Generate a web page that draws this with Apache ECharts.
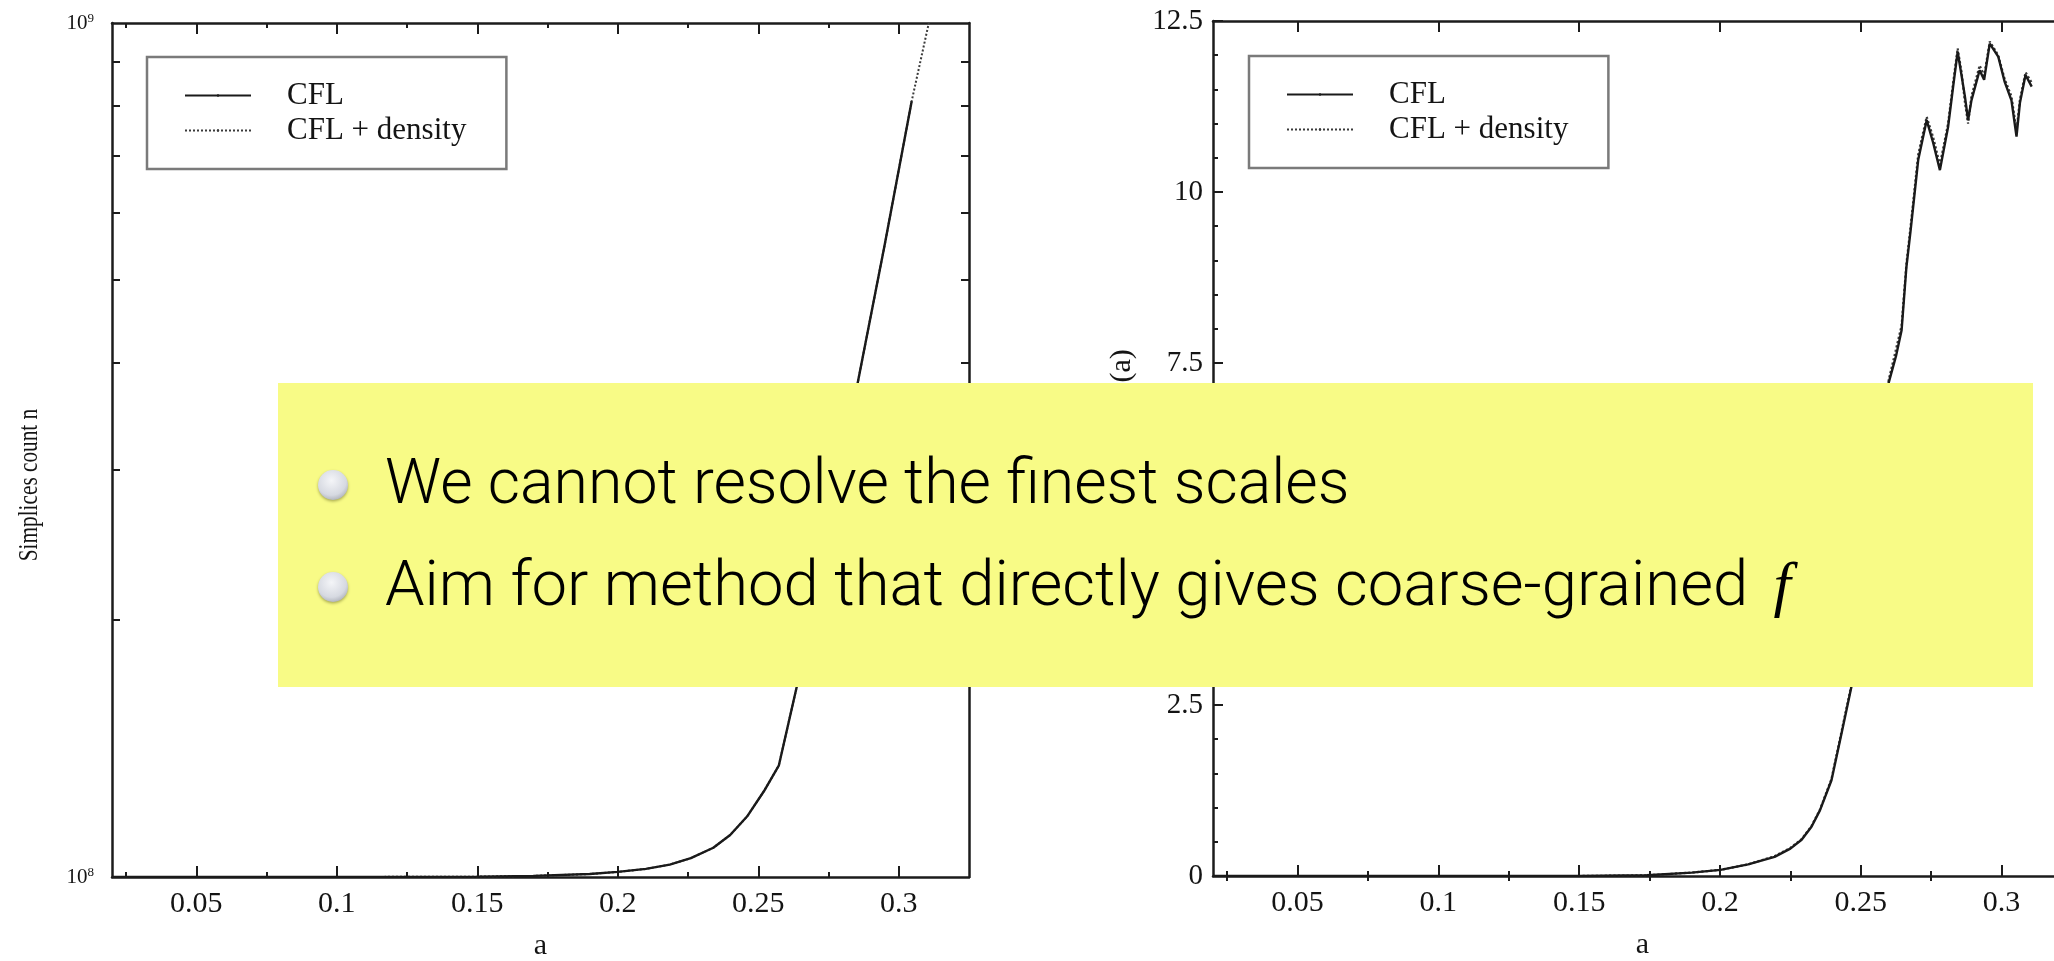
<!DOCTYPE html>
<html>
<head>
<meta charset="utf-8">
<script src="https://cdn.jsdelivr.net/npm/echarts@6/dist/echarts.min.js"></script>
<style>
  html, body { margin: 0; padding: 0; background: #ffffff; }
  #chart { width: 2054px; height: 961px; }
</style>
</head>
<body>
<div id="chart"></div>
<script>
// Tick positions on the scale-factor axis
const aTicks = [0.05, 0.1, 0.15, 0.2, 0.25, 0.3];
const aMinorTicks = [0.025, 0.075, 0.125, 0.175, 0.225, 0.275];

// Simplex count axis (log scale, one decade)
const countTicks = [1e8, 1e9];
const countMinorTicks = [2e8, 3e8, 4e8, 5e8, 6e8, 7e8, 8e8, 9e8];

// Right panel value axis
const valueTicks = [0, 2.5, 5, 7.5, 10, 12.5];
const valueMinorTicks = [0.5, 1, 1.5, 2, 3, 3.5, 4, 4.5, 5.5, 6, 6.5, 7, 8, 8.5, 9, 9.5, 10.5, 11, 11.5, 12];

// Simplices count n versus a
const countCFL = [
  [0.02, 1.000e8], [0.05, 1.000e8], [0.10, 1.000e8], [0.15, 1.001e8], [0.17, 1.003e8],
  [0.19, 1.008e8], [0.20, 1.014e8], [0.21, 1.022e8], [0.2185, 1.034e8], [0.226, 1.052e8],
  [0.234, 1.082e8], [0.240, 1.12e8], [0.246, 1.177e8], [0.252, 1.26e8], [0.2573, 1.35e8],
  [0.2637, 1.67e8], [0.270, 2.1e8], [0.278, 2.85e8], [0.2854, 3.79e8], [0.295, 5.5e8],
  [0.3046, 8.1e8]
];
const countDensity = [
  [0.02, 1.000e8], [0.05, 1.000e8], [0.10, 1.000e8], [0.15, 1.001e8], [0.17, 1.003e8],
  [0.19, 1.008e8], [0.20, 1.014e8], [0.21, 1.022e8], [0.2185, 1.034e8], [0.226, 1.052e8],
  [0.234, 1.082e8], [0.240, 1.12e8], [0.246, 1.177e8], [0.252, 1.26e8], [0.2573, 1.35e8],
  [0.2637, 1.67e8], [0.270, 2.1e8], [0.278, 2.85e8], [0.2854, 3.79e8], [0.295, 5.5e8],
  [0.3046, 8.1e8], [0.3107, 1.0e9]
];

// Right panel quantity versus a
const valueCFL = [
  [0.02, 0], [0.10, 0], [0.15, 0], [0.174, 0.01], [0.19, 0.05], [0.2002, 0.09], [0.21, 0.17],
  [0.2194, 0.28], [0.225, 0.40], [0.229, 0.53], [0.2325, 0.72], [0.2355, 0.96], [0.2396, 1.40],
  [0.2432, 2.09], [0.2467, 2.77], [0.252, 4.4], [0.256, 5.8], [0.2599, 7.21], [0.2625, 7.6],
  [0.2645, 7.98], [0.2662, 8.9], [0.2677, 9.44], [0.2704, 10.47], [0.2734, 11.05], [0.2757, 10.72],
  [0.2781, 10.32], [0.281, 10.95], [0.2828, 11.54], [0.2844, 12.05], [0.2858, 11.7], [0.287, 11.39],
  [0.2881, 11.05], [0.2893, 11.34], [0.2922, 11.78], [0.2938, 11.64], [0.2958, 12.17], [0.2988, 11.98],
  [0.3011, 11.61], [0.3035, 11.34], [0.3053, 10.81], [0.3065, 11.30], [0.3085, 11.71], [0.3107, 11.54]
];
const valueDensity = [
  [0.02, 0], [0.10, 0], [0.15, 0], [0.174, 0.01], [0.19, 0.05], [0.2002, 0.09], [0.21, 0.17],
  [0.2194, 0.29], [0.225, 0.41], [0.229, 0.54], [0.2325, 0.73], [0.2355, 0.97], [0.2396, 1.42],
  [0.2432, 2.12], [0.2467, 2.80], [0.252, 4.45], [0.256, 5.85], [0.2599, 7.25], [0.2625, 7.7],
  [0.2645, 8.05], [0.2662, 8.95], [0.2677, 9.5], [0.2704, 10.55], [0.2734, 11.1], [0.2757, 10.8],
  [0.2781, 10.4], [0.281, 11.0], [0.2828, 11.6], [0.2844, 12.1], [0.2858, 11.75], [0.287, 11.3],
  [0.2881, 11.0], [0.2893, 11.4], [0.2922, 11.85], [0.2938, 11.7], [0.2958, 12.2], [0.2988, 12.0],
  [0.3011, 11.65], [0.3035, 11.4], [0.3053, 10.9], [0.3065, 11.35], [0.3085, 11.75], [0.3107, 11.6]
];

const serif = '"Liberation Serif", "Times New Roman", serif';
const sans = 'Roboto, "Liberation Sans", Arial, sans-serif';
const ink = '#141414';
const axisLine = { show: true, onZero: false, lineStyle: { color: '#1c1c1c', width: 2.5 } };
const noLine = { show: false };

function xAxes(gridIndex) {
  const base = { type: 'value', gridIndex: gridIndex, min: 0.02, max: 0.325, splitLine: { show: false } };
  return [
    Object.assign({}, base, {
      position: 'bottom',
      axisLine: axisLine,
      axisTick: { inside: true, length: 11, customValues: aTicks, lineStyle: { color: '#1c1c1c', width: 2 } },
      axisLabel: { customValues: aTicks, margin: 12, color: ink, fontFamily: serif, fontSize: 30 },
      name: 'a',
      nameLocation: 'middle',
      nameGap: 54,
      nameTextStyle: { color: ink, fontFamily: serif, fontSize: 30 }
    }),
    Object.assign({}, base, {
      position: 'bottom',
      axisLine: noLine,
      axisTick: { inside: true, length: 5, customValues: aMinorTicks, lineStyle: { color: '#1c1c1c', width: 2 } },
      axisLabel: { show: false }
    }),
    Object.assign({}, base, {
      position: 'top',
      axisLine: axisLine,
      axisTick: { inside: true, length: 11, customValues: aTicks, lineStyle: { color: '#1c1c1c', width: 2 } },
      axisLabel: { show: false }
    }),
    Object.assign({}, base, {
      position: 'top',
      axisLine: noLine,
      axisTick: { inside: true, length: 5, customValues: aMinorTicks, lineStyle: { color: '#1c1c1c', width: 2 } },
      axisLabel: { show: false }
    })
  ];
}

function legendAt(left, top) {
  return {
    left: left, top: top, orient: 'vertical',
    padding: [23, 40, 23, 37], itemGap: 4, itemWidth: 66, itemHeight: 3,
    borderColor: '#7a7a7a', borderWidth: 2.5, backgroundColor: '#ffffff',
    selectedMode: false,
    textStyle: { color: ink, fontFamily: serif, fontSize: 31, lineHeight: 30, padding: [0, 0, 0, 31] },
    data: ['CFL', 'CFL + density']
  };
}

const countAxisBase = { type: 'log', logBase: 10, gridIndex: 0, min: 1e8, max: 1e9, splitLine: { show: false } };
const valueAxisBase = { type: 'value', gridIndex: 1, min: 0, max: 12.5, splitLine: { show: false } };

const bulletFill = {
  type: 'radial', x: 0.45, y: 0.35, r: 0.7, colorStops: [
    { offset: 0, color: '#f4f5f8' }, { offset: 0.7, color: '#d6d9e1' }, { offset: 1, color: '#a9adb6' }
  ]
};

const chart = echarts.init(document.getElementById('chart'), null, { renderer: 'canvas' });

chart.setOption({
  animation: false,
  backgroundColor: '#ffffff',
  grid: [
    { left: 112, top: 23, width: 857, height: 854, outerBoundsMode: 'none', containLabel: false },
    { left: 1213, top: 21, width: 859, height: 855, outerBoundsMode: 'none', containLabel: false }
  ],
  legend: [legendAt(147, 57), legendAt(1249, 56)],
  xAxis: xAxes(0).concat(xAxes(1)),
  yAxis: [
    Object.assign({}, countAxisBase, {
      position: 'left',
      axisLine: axisLine,
      axisTick: { inside: true, length: 8, customValues: countMinorTicks, lineStyle: { color: '#1c1c1c', width: 2 } },
      axisLabel: {
        customValues: countTicks, margin: 18, color: ink, fontFamily: serif,
        formatter: function (v) { return '{b|10}{e|' + Math.round(Math.log10(v)) + '}'; },
        rich: {
          b: { fontSize: 21, fontFamily: serif, color: ink, lineHeight: 22, verticalAlign: 'bottom' },
          e: { fontSize: 13, fontFamily: serif, color: ink, lineHeight: 22, verticalAlign: 'top' }
        }
      }
    }),
    Object.assign({}, countAxisBase, {
      position: 'right',
      axisLine: axisLine,
      axisTick: { inside: true, length: 8, customValues: countMinorTicks, lineStyle: { color: '#1c1c1c', width: 2 } },
      axisLabel: { show: false }
    }),
    Object.assign({}, valueAxisBase, {
      position: 'left',
      axisLine: axisLine,
      axisTick: { inside: true, length: 10, customValues: valueTicks, lineStyle: { color: '#1c1c1c', width: 2 } },
      axisLabel: { customValues: valueTicks, margin: 10, color: ink, fontFamily: serif, fontSize: 29 },
      name: 'Max. density \u03c1(a)',
      nameLocation: 'middle',
      nameGap: 76,
      nameTextStyle: { color: ink, fontFamily: serif, fontSize: 30, padding: [0, 14, 0, 0] }
    }),
    Object.assign({}, valueAxisBase, {
      position: 'left',
      axisLine: noLine,
      axisTick: { inside: true, length: 5, customValues: valueMinorTicks, lineStyle: { color: '#1c1c1c', width: 2 } },
      axisLabel: { show: false }
    }),
    Object.assign({}, valueAxisBase, {
      position: 'right',
      axisLine: axisLine,
      axisTick: { inside: true, length: 10, customValues: valueTicks, lineStyle: { color: '#1c1c1c', width: 2 } },
      axisLabel: { show: false }
    })
  ],
  series: [
    {
      name: 'CFL + density', type: 'line', xAxisIndex: 0, yAxisIndex: 0,
      data: countDensity, showSymbol: false, symbol: 'none',
      lineStyle: { color: '#3a3a3a', width: 2, type: 'dotted' }, itemStyle: { color: '#3a3a3a' }
    },
    {
      name: 'CFL', type: 'line', xAxisIndex: 0, yAxisIndex: 0,
      data: countCFL, showSymbol: false, symbol: 'none',
      lineStyle: { color: '#1a1a1a', width: 2.4 }, itemStyle: { color: '#1a1a1a' }
    },
    {
      name: 'CFL + density', type: 'line', xAxisIndex: 4, yAxisIndex: 2,
      data: valueDensity, showSymbol: false, symbol: 'none',
      lineStyle: { color: '#3a3a3a', width: 2.2, type: 'dotted' }, itemStyle: { color: '#3a3a3a' }
    },
    {
      name: 'CFL', type: 'line', xAxisIndex: 4, yAxisIndex: 2,
      data: valueCFL, showSymbol: false, symbol: 'none',
      lineStyle: { color: '#1a1a1a', width: 2.4 }, itemStyle: { color: '#1a1a1a' }
    }
  ],
  graphic: [
    // Left panel y-axis title, set in narrow type reading upwards
    {
      type: 'text', x: 30, y: 485, rotation: Math.PI / 2, scaleX: 0.76,
      style: {
        text: 'Simplices count n', fontFamily: serif, fontSize: 28, fill: ink,
        align: 'center', verticalAlign: 'middle'
      }
    },
    {
      type: 'rect', z: 100,
      shape: { x: 278, y: 383, width: 1755, height: 304 },
      style: { fill: '#f8fb86' }
    },
    {
      type: 'circle', z: 101,
      shape: { cx: 333, cy: 485, r: 15 },
      style: { fill: bulletFill, shadowColor: 'rgba(80,80,20,0.45)', shadowBlur: 3, shadowOffsetY: 1.5 }
    },
    {
      type: 'circle', z: 101,
      shape: { cx: 333, cy: 587, r: 15 },
      style: { fill: bulletFill, shadowColor: 'rgba(80,80,20,0.45)', shadowBlur: 3, shadowOffsetY: 1.5 }
    },
    {
      type: 'text', z: 101, x: 385, y: 487,
      style: {
        text: 'We cannot resolve the finest scales',
        fontFamily: sans, fontWeight: 300, fontSize: 62.6, fill: '#000000', verticalAlign: 'middle'
      }
    },
    {
      type: 'text', z: 101, x: 385, y: 589,
      style: {
        text: '{n|Aim for method that directly gives coarse-grained }{f|f}',
        fill: '#000000', verticalAlign: 'middle',
        rich: {
          n: { fontFamily: sans, fontWeight: 300, fontSize: 63.4, fill: '#000000' },
          f: { fontFamily: serif, fontStyle: 'italic', fontSize: 62, fill: '#000000', padding: [0, 0, 0, 10] }
        }
      }
    }
  ]
});
</script>
</body>
</html>
